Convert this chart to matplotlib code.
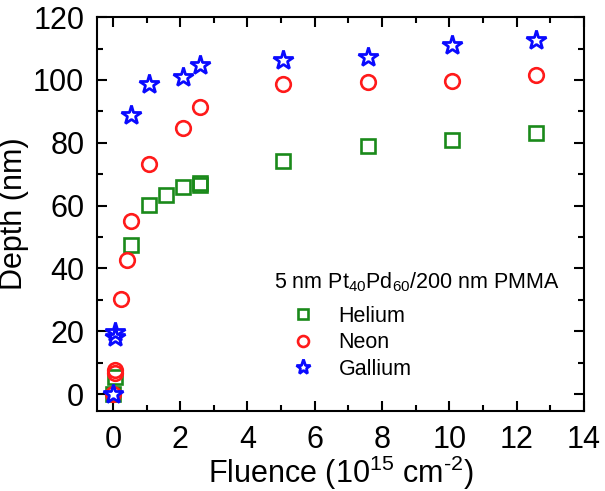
import matplotlib
matplotlib.use('Agg')
import matplotlib.pyplot as plt
from matplotlib.ticker import MultipleLocator

plt.rcParams['font.family'] = ['Liberation Sans', 'DejaVu Sans']
plt.rcParams['mathtext.fontset'] = 'custom'
plt.rcParams['mathtext.rm'] = 'Liberation Sans'
plt.rcParams['mathtext.it'] = 'Liberation Sans'

# fluence (1e15 cm^-2) and depth (nm)
he_x = [0.0, 0.06, 0.55, 1.06, 1.58, 2.07, 2.58, 2.58, 5.05, 7.57, 10.07, 12.57]
he_y = [0.0, 5.5, 47.6, 60.2, 63.4, 65.8, 67.3, 66.6, 74.2, 79.0, 80.9, 83.0]

ne_x = [0.0, 0.06, 0.06, 0.24, 0.41, 0.55, 1.06, 2.07, 2.58, 5.05, 7.57, 10.07, 12.57]
ne_y = [0.0, 6.7, 7.5, 30.2, 42.8, 55.2, 73.1, 84.8, 91.3, 98.6, 99.4, 99.6, 101.5]

ga_x = [0.0, 0.06, 0.06, 0.55, 1.06, 2.07, 2.58, 5.05, 7.57, 10.07, 12.57]
ga_y = [0.0, 18.2, 19.8, 88.9, 98.8, 100.8, 104.8, 106.4, 107.4, 111.3, 112.7]

fig = plt.figure(figsize=(6.05, 4.91), dpi=100)
ax = fig.add_axes([0.160, 0.163, 0.805, 0.802])

ax.plot(he_x, he_y, ls='none', marker='s', ms=10, mfc='none', mec='#1a8a1a', mew=1.9, label='Helium')
ax.plot(ne_x, ne_y, ls='none', marker='o', ms=10.5, mfc='none', mec='#ff1a1a', mew=1.9, label='Neon')
ax.plot(ga_x, ga_y, ls='none', marker='*', ms=14.5, mfc='none', mec='#0a0aff', mew=2.0, label='Gallium')

ax.set_xlim(-0.48, 14)
ax.set_ylim(-5.4, 120)
ax.xaxis.set_major_locator(MultipleLocator(2))
ax.xaxis.set_minor_locator(MultipleLocator(1))
ax.yaxis.set_major_locator(MultipleLocator(20))
ax.yaxis.set_minor_locator(MultipleLocator(10))
ax.tick_params(which='both', direction='in', top=True, right=True, width=1.5)
ax.tick_params(which='major', length=7, labelsize=22)
ax.tick_params(axis='x', which='major', pad=10)
ax.tick_params(axis='y', which='major', pad=9)
ax.tick_params(which='minor', length=4)
for s in ax.spines.values():
    s.set_linewidth(1.5)

ax.set_xlabel(r'Fluence (10$^{15}$ cm$^{\text{-2}}$)', fontsize=22, labelpad=-1)
ax.set_ylabel('Depth (nm)', fontsize=22, labelpad=3)

ax.text(0.364, 0.327, '5 nm Pt$_{40}$Pd$_{60}$/200 nm PMMA', transform=ax.transAxes,
        fontsize=15.5, ha='left', va='center')
ax.legend(loc='upper left', bbox_to_anchor=(0.397, 0.267), frameon=False, fontsize=15.5,
          markerscale=0.75, handlelength=1.2, handletextpad=1.05,
          labelspacing=0.25, borderaxespad=0, borderpad=0)

fig.savefig('out.png', dpi=100)
